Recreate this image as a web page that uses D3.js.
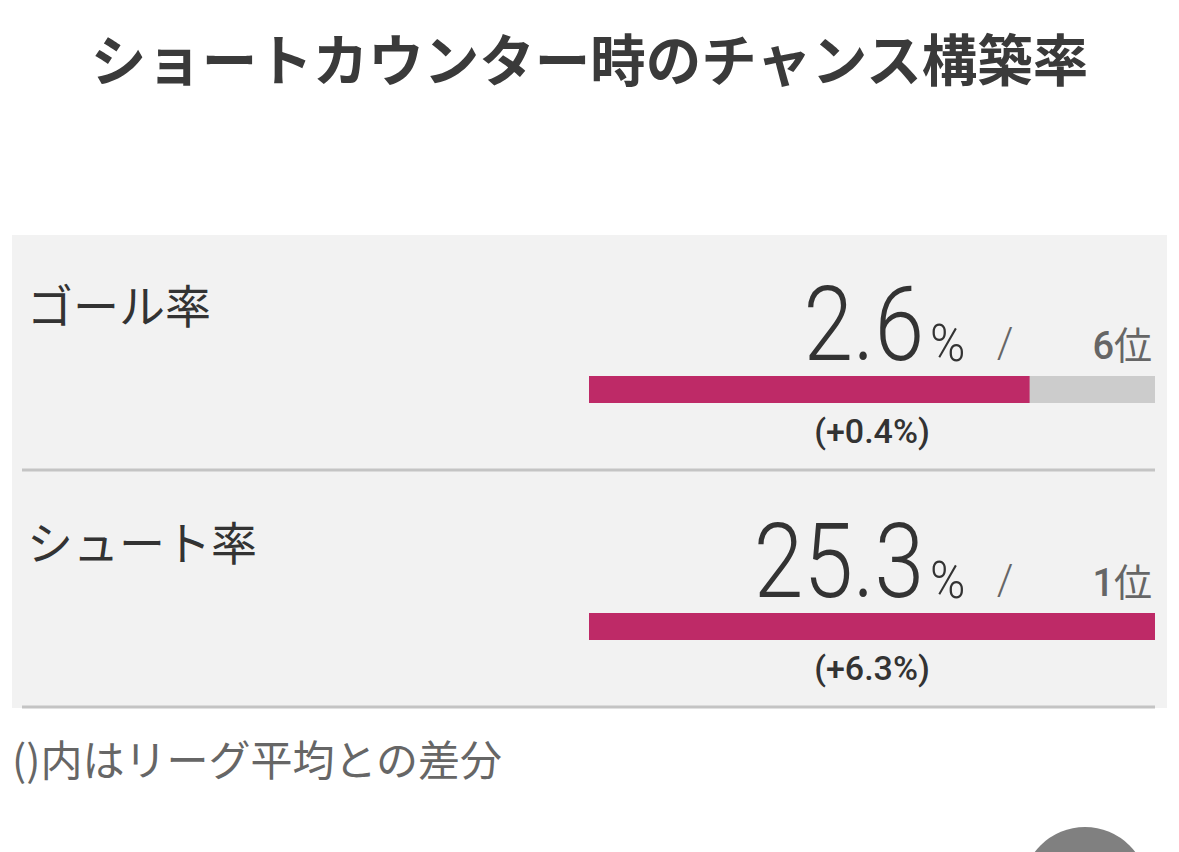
<!DOCTYPE html>
<html>
<head>
<meta charset="utf-8">
<script src="https://cdn.jsdelivr.net/npm/d3@7/dist/d3.min.js"></script>
<style>
  html, body { margin: 0; padding: 0; background: #fff; }
  svg { display: block; }
</style>
</head>
<body>
<script>
// data
var title = "ショートカウンター時のチャンス構築率";
var labels = ["ゴール率", "シュート率"];
var values = [2.6, 25.3];
var leagueMax = [3.34, 25.3];
var ranks = [6, 1];
var diffs = ["(+0.4%)", "(+6.3%)"];
var note = "()内はリーグ平均との差分";

var W = 1179, H = 852;
var latin = "Roboto, 'Noto Sans CJK JP', sans-serif";
var cjk = "'Noto Sans CJK JP', 'Noto Sans', sans-serif";

var svg = d3.select("body").append("svg")
  .attr("width", W)
  .attr("height", H);

svg.append("text")
  .attr("x", W / 2)
  .attr("y", 81)
  .attr("text-anchor", "middle")
  .attr("font-family", cjk)
  .attr("font-weight", 700)
  .attr("font-size", 55.5)
  .attr("fill", "#3a3a3a")
  .text(title);

// panel
svg.append("rect")
  .attr("x", 12)
  .attr("y", 235)
  .attr("width", 1155)
  .attr("height", 473)
  .attr("fill", "#f2f2f2");

var rowH = 237;
var rowY = d3.scaleLinear().domain([0, 1]).range([0, rowH]);

var rows = svg.selectAll(".row")
  .data(labels)
  .enter()
  .append("g")
  .attr("class", "row")
  .attr("transform", function (d, i) { return "translate(0," + rowY(i) + ")"; });

rows.append("text")
  .attr("x", 27)
  .attr("y", 323)
  .attr("font-family", cjk)
  .attr("font-size", 46)
  .attr("fill", "#333")
  .text(function (d) { return d; });

// big number, slightly condensed
rows.append("text")
  .attr("transform", "translate(924,360) scale(0.86,1)")
  .attr("text-anchor", "end")
  .attr("font-family", latin)
  .attr("font-weight", 300)
  .attr("font-size", 104)
  .attr("fill", "#333")
  .text(function (d, i) { return values[i].toFixed(1); });

rows.append("text")
  .attr("transform", "translate(930,361) scale(0.92,1)")
  .attr("font-family", latin)
  .attr("font-weight", 300)
  .attr("font-size", 52)
  .attr("fill", "#333")
  .text("%");

rows.append("text")
  .attr("x", 1005)
  .attr("y", 357)
  .attr("text-anchor", "middle")
  .attr("font-family", latin)
  .attr("font-weight", 300)
  .attr("font-size", 42)
  .attr("fill", "#666")
  .text("/");

var rk = rows.append("text")
  .attr("x", 1152)
  .attr("y", 359)
  .attr("text-anchor", "end")
  .attr("font-size", 38)
  .attr("fill", "#666");
rk.append("tspan")
  .attr("font-family", latin)
  .attr("font-weight", 500)
  .text(function (d, i) { return ranks[i]; });
rk.append("tspan")
  .attr("font-family", cjk)
  .attr("font-weight", 400)
  .text("位");

// bars
rows.each(function (d, i) {
  var x = d3.scaleLinear().domain([0, leagueMax[i]]).range([589, 1155]);
  var g = d3.select(this);
  g.append("rect")
    .attr("x", x(0))
    .attr("y", 376)
    .attr("width", x(leagueMax[i]) - x(0))
    .attr("height", 27)
    .attr("fill", "#cccccc");
  g.append("rect")
    .attr("x", x(0))
    .attr("y", 376)
    .attr("width", x(values[i]) - x(0))
    .attr("height", 27)
    .attr("fill", "#be2a67");
  g.append("text")
    .attr("x", (x(0) + x(leagueMax[i])) / 2)
    .attr("y", 443)
    .attr("text-anchor", "middle")
    .attr("font-family", latin)
    .attr("font-weight", 500)
    .attr("font-size", 34)
    .attr("fill", "#333")
    .text(diffs[i]);
});

rows.append("line")
  .attr("x1", 22)
  .attr("x2", 1155)
  .attr("y1", 470)
  .attr("y2", 470)
  .attr("stroke", "#c4c4c4")
  .attr("stroke-width", 3);

svg.append("text")
  .attr("x", 12)
  .attr("y", 776)
  .attr("font-family", cjk)
  .attr("font-size", 42)
  .attr("fill", "#666")
  .text(note);

// partial button at bottom right
svg.append("circle")
  .attr("cx", 1085)
  .attr("cy", 890)
  .attr("r", 63)
  .attr("fill", "#808080");
</script>
</body>
</html>
